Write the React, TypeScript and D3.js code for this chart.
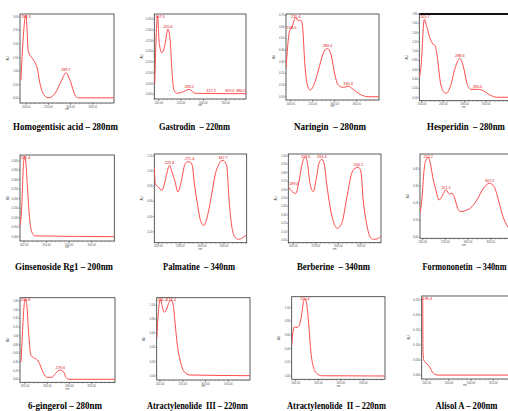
import React from "react";
import * as d3 from "d3";

// wavelengths (nm) and absorbances (AU)
const homogentisicNm = [188, 199.3, 205, 212, 220, 225, 231, 238, 250, 265, 280, 289.7, 300, 310, 317, 398];
const homogentisicAu = [0.67, 3.06, 1.71, 1.51, 1.31, 1.1, 0.55, 0.18, 0.02, 0.18, 0.67, 0.94, 0.61, 0.12, 0.02, 0.02];
const homogentisicPeaks = [199.3, 289.7];

const gastrodinNm = [191, 197.3, 201, 207, 213, 220.6, 225.5, 229, 234, 240, 255, 268.2, 281, 300, 317.2, 340, 359, 386, 396];
const gastrodinAu = [0.051, 0.366, 0.238, 0.194, 0.222, 0.304, 0.254, 0.129, 0.02, 0.005, 0.012, 0.023, 0.005, 0.004, 0.004, 0.003, 0.003, 0.003, 0.003];
const gastrodinPeaks = [197.3, 220.6, 268.2, 317.2, 359.0, 386.0];

const naringinNm = [189.5, 193, 198, 202, 208, 211.4, 217, 223, 227, 232, 238, 244, 251, 263, 274, 283.4, 292, 299, 308, 320, 330.4, 342, 358, 377, 400];
const naringinAu = [0.243, 0.429, 0.571, 0.586, 0.657, 0.68, 0.651, 0.657, 0.6, 0.286, 0.1, 0.057, 0.086, 0.229, 0.372, 0.414, 0.357, 0.214, 0.1, 0.08, 0.091, 0.063, 0.02, 0.0, 0.0];
const naringinPeaks = [198, 211.4, 283.4, 330.4];

const hesperidinNm = [194, 198, 205.7, 211.5, 219, 226, 231, 236, 243, 249, 256, 266, 277.5, 288.6, 297, 305, 314, 330.0, 340, 359, 375, 410];
const hesperidinAu = [0.417, 0.667, 1.686, 1.527, 1.277, 1.155, 1.118, 0.882, 0.344, 0.151, 0.094, 0.223, 0.632, 0.847, 0.667, 0.322, 0.18, 0.18, 0.165, 0.058, 0.009, 0.009];
const hesperidinPeaks = [205.7, 288.6, 330.0];

const ginsenosideNm = [191, 195, 198.5, 201.4, 204.5, 208, 212, 217, 224, 400];
const ginsenosideAu = [0.053, 0.158, 0.368, 0.425, 0.377, 0.246, 0.105, 0.026, 0.004, 0.0];
const ginsenosidePeaks = [201.4];

const palmatineNm = [191, 193, 200, 208.5, 213, 218.5, 225.8, 230, 237.5, 245, 253, 260.5, 266, 271.4, 277.5, 282, 290, 296.5, 304, 312.5, 321.5, 330.5, 339, 347.7, 356, 362, 367.5, 375, 383, 393, 402];
const palmatineAu = [1.041, 0.834, 0.79, 0.746, 0.812, 0.944, 1.077, 1.011, 0.878, 0.724, 0.878, 1.086, 1.121, 1.125, 1.077, 0.856, 0.546, 0.347, 0.281, 0.413, 0.678, 0.965, 1.098, 1.143, 1.077, 0.591, 0.281, 0.13, 0.099, 0.121, 0.161];
const palmatinePeaks = [225.8, 271.4, 347.7];

const berberineNm = [189, 198, 205.5, 212.5, 220, 227.6, 232, 237, 244.5, 250.5, 257, 263.4, 269, 274, 281.5, 289, 297.5, 307.5, 318.5, 329.5, 337, 344.2, 350, 355, 362.5, 370, 377.5, 387, 394.5];
const berberineAu = [0.634, 0.574, 0.555, 0.693, 0.91, 0.988, 0.891, 0.674, 0.574, 0.714, 0.91, 0.957, 0.891, 0.674, 0.4, 0.22, 0.142, 0.201, 0.496, 0.792, 0.851, 0.863, 0.811, 0.476, 0.201, 0.043, 0.012, 0.019, 0.051];
const berberinePeaks = [189.0, 227.6, 263.4, 344.2];

const formononetinNm = [194, 198, 203, 207, 212.2, 217.5, 222, 229, 236, 242, 251.2, 259, 264.5, 269.5, 277, 284, 293.5, 305, 319.5, 334, 347.2, 357.5, 367, 377, 388.5, 397];
const formononetinAu = [0.144, 0.218, 0.394, 0.452, 0.468, 0.423, 0.354, 0.277, 0.218, 0.237, 0.277, 0.253, 0.257, 0.237, 0.17, 0.15, 0.156, 0.17, 0.218, 0.287, 0.316, 0.296, 0.218, 0.121, 0.059, 0.03];
const formononetinPeaks = [212.2, 251.2, 347.2];

const gingerolNm = [191, 194, 198, 200.8, 204, 208.5, 213, 219, 228, 234, 241.5, 250, 260, 269, 279.6, 287, 293, 299, 402];
const gingerolAu = [0.404, 1.017, 1.706, 1.844, 1.706, 1.017, 0.558, 0.496, 0.443, 0.328, 0.138, 0.046, 0.046, 0.138, 0.214, 0.168, 0.037, 0.0, 0.0];
const gingerolPeaks = [200.8, 279.6];

const atractylenolide3Nm = [193, 195.5, 198.5, 201.4, 205, 209.5, 214.5, 220, 224.4, 229, 233.5, 238, 244, 250, 257, 266, 397];
const atractylenolide3Au = [0.53, 0.814, 1.027, 1.088, 0.979, 0.899, 0.946, 1.041, 1.074, 1.003, 0.719, 0.435, 0.223, 0.091, 0.034, 0.01, 0.0];
const atractylenolide3Peaks = [201.4, 224.4];

const atractylenolide2Nm = [191, 193, 197, 200.5, 205.5, 211, 214.5, 218, 220.4, 224, 229.5, 233.5, 239, 246.5, 257.5, 398];
const atractylenolide2Au = [0.453, 0.599, 0.72, 0.706, 0.72, 0.818, 0.964, 1.109, 1.124, 1.061, 0.696, 0.355, 0.136, 0.039, 0.004, 0.0];
const atractylenolide2Peaks = [220.4];

const alisolNm = [188.7, 189.4, 191, 191.6, 194, 200, 207.5, 215, 226, 401];
const alisolAu = [0.253, 0.256, 0.244, 0.078, 0.047, 0.039, 0.024, 0.006, 0.0, 0.0];
const alisolPeaks = [189.4];

// tick labels
const xTickValues = [200, 250, 300, 350];
const yTicksHomogentisic = [0, 0.5, 1, 1.5, 2, 2.5, 3];
const yTicksGastrodin = [0, 0.05, 0.1, 0.15, 0.2, 0.25, 0.3, 0.35];
const yTicksNaringin = [0, 0.1, 0.2, 0.3, 0.4, 0.5, 0.6, 0.7];
const yTicksHesperidin = [0, 0.2, 0.4, 0.6, 0.8, 1.0, 1.2, 1.4, 1.6, 1.8];
const yTicksGinsenoside = [0, 0.05, 0.1, 0.15, 0.2, 0.25, 0.3, 0.35, 0.4];
const yTicksPalmatine = [0.2, 0.4, 0.6, 0.8, 1.0, 1.2];
const yTicksBerberine = [0, 0.1, 0.2, 0.3, 0.4, 0.5, 0.6, 0.7, 0.8, 0.9, 1.0];
const yTicksFormononetin = [0, 0.1, 0.2, 0.3, 0.4];
const yTicksGingerol = [0, 0.2, 0.4, 0.6, 0.8, 1.0, 1.2, 1.4, 1.6, 1.8];
const yTicksUnit = [0, 0.2, 0.4, 0.6, 0.8, 1.0];
const yTicksAlisol = [0, 0.05, 0.1, 0.15, 0.2, 0.25];

const titles = [
  "Homogentisic acid – 280nm",
  "Gastrodin  – 220nm",
  "Naringin  – 280nm",
  "Hesperidin  – 280nm",
  "Ginsenoside Rg1 – 200nm",
  "Palmatine  – 340nm",
  "Berberine  – 340nm",
  "Formononetin  – 340nm",
  "6-gingerol – 280nm",
  "Atractylenolide  III – 220nm",
  "Atractylenolide  II – 220nm",
  "Alisol A – 200nm",
];

const spectra = [
  { nm: homogentisicNm, au: homogentisicAu, peaks: homogentisicPeaks, yTicks: yTicksHomogentisic },
  { nm: gastrodinNm, au: gastrodinAu, peaks: gastrodinPeaks, yTicks: yTicksGastrodin },
  { nm: naringinNm, au: naringinAu, peaks: naringinPeaks, yTicks: yTicksNaringin },
  { nm: hesperidinNm, au: hesperidinAu, peaks: hesperidinPeaks, yTicks: yTicksHesperidin },
  { nm: ginsenosideNm, au: ginsenosideAu, peaks: ginsenosidePeaks, yTicks: yTicksGinsenoside },
  { nm: palmatineNm, au: palmatineAu, peaks: palmatinePeaks, yTicks: yTicksPalmatine },
  { nm: berberineNm, au: berberineAu, peaks: berberinePeaks, yTicks: yTicksBerberine },
  { nm: formononetinNm, au: formononetinAu, peaks: formononetinPeaks, yTicks: yTicksFormononetin },
  { nm: gingerolNm, au: gingerolAu, peaks: gingerolPeaks, yTicks: yTicksGingerol },
  { nm: atractylenolide3Nm, au: atractylenolide3Au, peaks: atractylenolide3Peaks, yTicks: yTicksUnit },
  { nm: atractylenolide2Nm, au: atractylenolide2Au, peaks: atractylenolide2Peaks, yTicks: yTicksUnit },
  { nm: alisolNm, au: alisolAu, peaks: alisolPeaks, yTicks: yTicksAlisol },
];

// panel geometry: plot box, scale domains, title centre / baseline / width
const layout = [
  { box: [20, 14, 114, 103], xd: [186, 398], yd: [-0.17, 3.1], t: [65.5, 130, 105], f: ".2f" },
  { box: [154.3, 14, 246, 99], xd: [190, 395.6], yd: [-0.022, 0.375], t: [194.5, 130, 71], f: ".3f" },
  { box: [286, 14, 379, 100], xd: [189.3, 400.7], yd: [-0.028, 0.709], t: [330, 130, 72], f: ".2f" },
  { box: [419.3, 14, 512, 100.7], xd: [194, 410.6], yd: [-0.065, 1.8], t: [466, 130, 78], f: ".2f", top: 1.8 },
  { box: [20, 155, 114.3, 241], xd: [191.1, 400.2], yd: [-0.023, 0.43], t: [64, 269.5, 98], f: ".3f" },
  { box: [154.3, 154, 246.7, 242.7], xd: [190.9, 401.9], yd: [0.054, 1.226], t: [199, 269.5, 72], f: ".2f" },
  { box: [288.3, 154, 381, 242.7], xd: [189, 394.5], yd: [-0.028, 1.02], t: [333.5, 269.5, 73], f: ".2f" },
  { box: [420, 154, 512, 238.3], xd: [194, 397], yd: [-0.006, 0.487], t: [464.5, 269.5, 84], f: ".2f" },
  { box: [20, 297.7, 115, 382.3], xd: [188.7, 402.6], yd: [-0.069, 1.876], t: [65, 408.5, 74], f: ".2f" },
  { box: [156.7, 297.7, 250, 380], xd: [192.8, 397.4], yd: [-0.061, 1.106], t: [197.5, 408.5, 101], f: ".2f" },
  { box: [291.7, 296.7, 385, 379.3], xd: [191, 398], yd: [-0.048, 1.158], t: [336.5, 408.5, 99], f: ".2f" },
  { box: [421.7, 296, 516, 379], xd: [188.7, 401], yd: [-0.013, 0.263], t: [466.5, 408.5, 63], f: ".3f" },
];

const RED = "#ff4a4a";
const TITLE_FONT = "bold 10.5px 'Liberation Serif'";

let measureCtx = null;
const naturalWidth = str => {
  if (typeof document === "undefined") return str.length * 5;
  if (!measureCtx) measureCtx = document.createElement("canvas").getContext("2d");
  measureCtx.font = TITLE_FONT;
  return measureCtx.measureText(str).width || str.length * 5;
};

const Spectrum = ({ spec, lay, title, idx }) => {
  const [x0, y0, x1, y1] = lay.box;
  const x = d3.scaleLinear().domain(lay.xd).range([x0, x1]);
  const y = d3.scaleLinear().domain(lay.yd).range([y1, y0]);
  const pts = spec.nm.map((n, i) => [n, spec.au[i]]);
  const line = d3
    .line()
    .x(d => x(d[0]))
    .y(d => y(d[1]))
    .curve(d3.curveMonotoneX);
  const interp = wl => {
    const i = d3.bisector(d => d[0]).left(pts, wl);
    if (i <= 0) return pts[0][1];
    if (i >= pts.length) return pts[pts.length - 1][1];
    const a = pts[i - 1], b = pts[i];
    if (b[0] === wl) return b[1];
    return a[1] + ((b[1] - a[1]) * (wl - a[0])) / (b[0] - a[0]);
  };
  const fmt = d3.format(lay.f);
  const minor = d3.range(Math.ceil(lay.xd[0] / 10) * 10, lay.xd[1], 10);
  const clipId = `clip${idx}`;
  const lblFs = 3.8;
  const halfW = 5 * lblFs * 0.28;
  const sx = lay.t[2] / naturalWidth(title);
  return (
    <g>
      <defs>
        <clipPath id={clipId}>
          <rect x={x0} y={y0 - 0.5} width={x1 - x0} height={y1 - y0 + 0.5} />
        </clipPath>
      </defs>
      <rect x={x0} y={y0} width={x1 - x0} height={y1 - y0} fill="#fff" stroke="#333" strokeWidth={0.8} />
      {lay.top && <line x1={x0} x2={x1} y1={y0} y2={y0} stroke="#111" strokeWidth={lay.top} />}
      {minor.map(v => (
        <line key={`m${v}`} x1={x(v)} x2={x(v)} y1={y1} y2={y1 + 1.2} stroke="#555" strokeWidth={0.4} />
      ))}
      {xTickValues.map(v => (
        <g key={`x${v}`}>
          <line x1={x(v)} x2={x(v)} y1={y1} y2={y1 + 2} stroke="#444" strokeWidth={0.5} />
          <text x={x(v)} y={y1 + 4.6} fontSize={2.8} fill="#555" textAnchor="middle" fontFamily="Liberation Sans, Arial">
            {v.toFixed(2)}
          </text>
        </g>
      ))}
      {spec.yTicks.map(v => (
        <g key={`y${v}`}>
          <line x1={x0 - 1.2} x2={x0} y1={y(v)} y2={y(v)} stroke="#444" strokeWidth={0.5} />
          <text x={x0 - 1.6} y={y(v) + 1} fontSize={2.8} fill="#555" textAnchor="end" fontFamily="Liberation Sans, Arial">
            {fmt(v)}
          </text>
        </g>
      ))}
      <text
        transform={`translate(${x0 - 11.5},${(y0 + y1) / 2}) rotate(-90)`}
        fontSize={3}
        fill="#444"
        textAnchor="middle"
        fontFamily="Liberation Sans, Arial"
      >
        AU
      </text>
      <text x={(x0 + Math.min(x1, 508)) / 2} y={y1 + 7.2} fontSize={2.8} fill="#555" textAnchor="middle" fontFamily="Liberation Sans, Arial">
        nm
      </text>
      <path d={line(pts)} fill="none" stroke={RED} strokeWidth={1} clipPath={`url(#${clipId})`} />
      {spec.peaks.map(p => {
        const cx = Math.max(x0 + halfW + 0.3, Math.min(x(p), x1 - halfW));
        const cy = Math.max(y0 + 3.6, y(interp(p)) - 1.3);
        return (
          <text key={`p${p}`} x={cx} y={cy} fontSize={lblFs} fill="#e01010" textAnchor="middle" fontFamily="Liberation Sans, Arial">
            {p.toFixed(1)}
          </text>
        );
      })}
      <text
        transform={`translate(${lay.t[0]},${lay.t[1]}) scale(${sx},1)`}
        fontSize={10.5}
        fontWeight="bold"
        fontFamily="Liberation Serif, Times New Roman, serif"
        textAnchor="middle"
        fill="#000"
        style={{ whiteSpace: "pre" }}
      >
        {title}
      </text>
    </g>
  );
};

const App = () => (
  <svg width={508} height={411} style={{ position: "absolute", left: 0, top: 0, background: "#fff" }}>
    <rect width={508} height={411} fill="#fff" />
    {spectra.map((s, i) => (
      <Spectrum key={i} idx={i} spec={s} lay={layout[i]} title={titles[i]} />
    ))}
  </svg>
);

export default App;
